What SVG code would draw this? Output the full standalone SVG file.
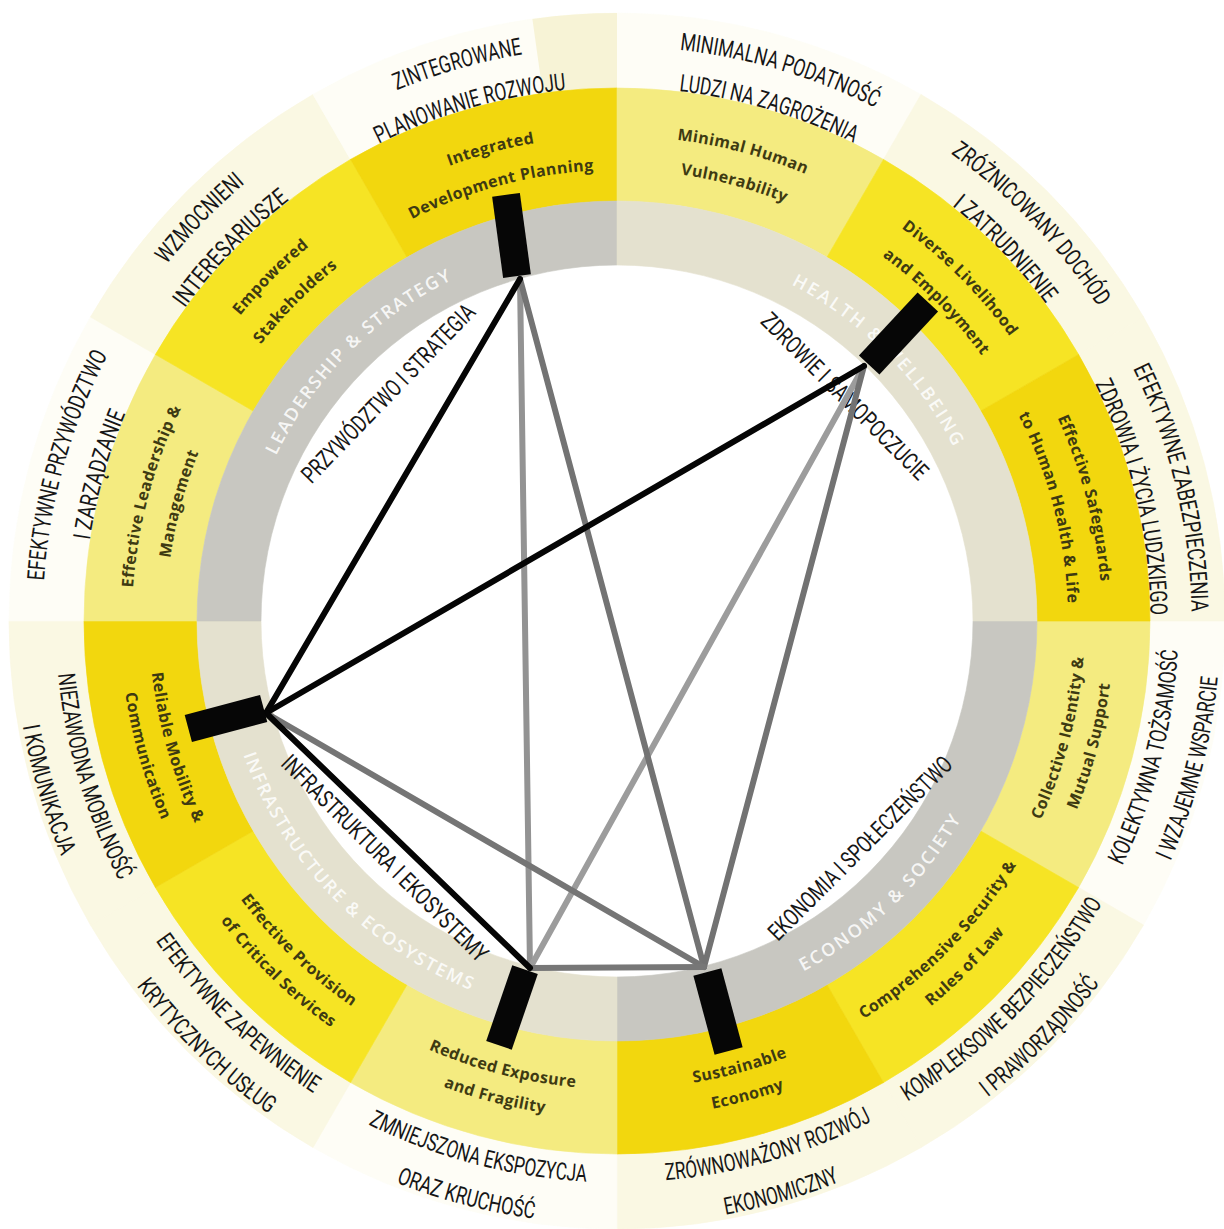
<svg xmlns="http://www.w3.org/2000/svg" width="1224" height="1229" viewBox="0 0 1224 1229">
<defs>
<style>
.pl{font-family:Roboto,"Liberation Sans",sans-serif;font-size:24px;fill:#161616;text-anchor:middle}
.en{font-family:"Open Sans","DejaVu Sans",sans-serif;font-weight:700;font-size:16px;letter-spacing:0.4px;fill:#3e3a12;text-anchor:middle}
.qd{font-family:"Open Sans","DejaVu Sans",sans-serif;font-weight:600;font-size:18px;fill:#ffffff;fill-opacity:0.85;text-anchor:middle}
.light{fill:#f4eb80;stroke:#f4eb80;stroke-width:0.6}
.bright{fill:#f6e424;stroke:#f6e424;stroke-width:0.6}
.gold{fill:#f2d70e;stroke:#f2d70e;stroke-width:0.6}
.cream{fill:#faf8e3;stroke:#faf8e3;stroke-width:0.6}
.pale{fill:#fefdf6;stroke:#fefdf6;stroke-width:0.6}
.grayq{fill:#c8c7c1;stroke:#c8c7c1;stroke-width:0.6}
.beigeq{fill:#e4e1cf;stroke:#e4e1cf;stroke-width:0.6}
.bar{fill:#060606}
.lk{fill:none;stroke-width:6;stroke-linecap:round}
</style>
<!-- ring sectors drawn at the origin, 0..30deg / 0..90deg -->
<path id="sy" d="M420,0 L533,0 A533,533 0 0 1 461.59,266.5 L363.73,210 A420,420 0 0 0 420,0 Z"/>
<path id="so" d="M533,0 L608,0 A608,608 0 0 1 526.54,304 L461.59,266.5 A533,533 0 0 0 533,0 Z"/>
<path id="sg" d="M356,0 L420,0 A420,420 0 0 1 0,420 L0,356 A356,356 0 0 0 356,0 Z"/>
<!-- label arcs: top arcs run clockwise around 270deg, bottom arcs counter-clockwise around 90deg -->
<path id="OT1" d="M-440.1,-369.3 A574.5,574.5 0 0 1 440.1,-369.3"/>
<path id="OT2" d="M-408.7,-342.9 A533.5,533.5 0 0 1 408.7,-342.9"/>
<path id="OB1" d="M-430.1,360.9 A561.5,561.5 0 0 0 430.1,360.9"/>
<path id="OB2" d="M-462.3,387.9 A603.5,603.5 0 0 0 462.3,387.9"/>
<path id="ET1" d="M-371.5,-311.8 A485,485 0 0 1 371.5,-311.8"/>
<path id="ET2" d="M-345.5,-289.9 A451,451 0 0 1 345.5,-289.9"/>
<path id="EB1" d="M-358.5,300.8 A468,468 0 0 0 358.5,300.8"/>
<path id="EB2" d="M-380.7,319.5 A497,497 0 0 0 380.7,319.5"/>
<path id="QT" d="M-290.3,-243.6 A379,379 0 0 1 290.3,-243.6"/>
<path id="QB" d="M-304.1,255.2 A397,397 0 0 0 304.1,255.2"/>
</defs>

<rect width="1224" height="1229" fill="#ffffff"/>

<!-- outer ring: pale sectors -->
<g id="outer-ring" transform="translate(617,621)">
<use href="#so" class="pale" transform="rotate(0)"/>
<use href="#so" class="cream" transform="rotate(30)"/>
<use href="#so" class="cream" transform="rotate(60)"/>
<use href="#so" class="pale" transform="rotate(90)"/>
<use href="#so" class="cream" transform="rotate(120)"/>
<use href="#so" class="cream" transform="rotate(150)"/>
<use href="#so" class="pale" transform="rotate(180)"/>
<use href="#so" class="cream" transform="rotate(210)"/>
<use href="#so" class="pale" transform="rotate(240)"/>
<use href="#so" class="pale" transform="rotate(270)"/>
<use href="#so" class="cream" transform="rotate(300)"/>
<use href="#so" class="cream" transform="rotate(330)"/>
</g>
<path d="M542.8,93.2 L532.4,18.9 A608,608 0 0 1 617,13 L617,88 A533,533 0 0 0 542.8,93.2 Z" fill="#f7f3d6"/>

<!-- yellow ring: twelve capacity segments -->
<g id="seg-collective-identity">
<use href="#sy" class="light" transform="translate(617,621) rotate(0)"/>
<g transform="translate(617,621) rotate(-75.6)">
<text class="pl"><textPath href="#OB1" startOffset="50%" textLength="224" lengthAdjust="spacingAndGlyphs">KOLEKTYWNA TOŻSAMOŚĆ</textPath></text>
<text class="pl"><textPath href="#OB2" startOffset="50%" textLength="191" lengthAdjust="spacingAndGlyphs">I WZAJEMNE WSPARCIE</textPath></text>
</g>
<g transform="translate(617,621) rotate(-75.2)">
<text class="en"><textPath href="#EB1" startOffset="50%">Collective Identity &amp;</textPath></text>
<text class="en"><textPath href="#EB2" startOffset="50%">Mutual Support</textPath></text>
</g>
</g>

<g id="seg-comprehensive-security">
<use href="#sy" class="bright" transform="translate(617,621) rotate(30)"/>
<g transform="translate(617,621) rotate(-45.5)">
<text class="pl"><textPath href="#OB1" startOffset="50%" textLength="281" lengthAdjust="spacingAndGlyphs">KOMPLEKSOWE BEZPIECZEŃSTWO</textPath></text>
<text class="pl"><textPath href="#OB2" startOffset="50%" textLength="160" lengthAdjust="spacingAndGlyphs">I PRAWORZĄDNOŚĆ</textPath></text>
</g>
<g transform="translate(617,621) rotate(-45.2)">
<text class="en"><textPath href="#EB1" startOffset="50%">Comprehensive Security &amp;</textPath></text>
<text class="en"><textPath href="#EB2" startOffset="50%">Rules of Law</textPath></text>
</g>
</g>

<g id="seg-sustainable-economy">
<use href="#sy" class="gold" transform="translate(617,621) rotate(60)"/>
<g transform="translate(617,621) rotate(-16)">
<text class="pl"><textPath href="#OB1" startOffset="50%" textLength="216" lengthAdjust="spacingAndGlyphs">ZRÓWNOWAŻONY ROZWÓJ</textPath></text>
<text class="pl"><textPath href="#OB2" startOffset="50%" textLength="119" lengthAdjust="spacingAndGlyphs">EKONOMICZNY</textPath></text>
</g>
<g transform="translate(617,621) rotate(-15.4)">
<text class="en"><textPath href="#EB1" startOffset="50%">Sustainable</textPath></text>
<text class="en"><textPath href="#EB2" startOffset="50%">Economy</textPath></text>
</g>
</g>

<g id="seg-reduced-exposure">
<use href="#sy" class="light" transform="translate(617,621) rotate(90)"/>
<g transform="translate(617,621) rotate(14.7)">
<text class="pl"><textPath href="#OB1" startOffset="50%" textLength="227" lengthAdjust="spacingAndGlyphs">ZMNIEJSZONA EKSPOZYCJA</textPath></text>
<text class="pl"><textPath href="#OB2" startOffset="50%" textLength="143" lengthAdjust="spacingAndGlyphs">ORAZ KRUCHOŚĆ</textPath></text>
</g>
<g transform="translate(617,621) rotate(14.4)">
<text class="en"><textPath href="#EB1" startOffset="50%">Reduced Exposure</textPath></text>
<text class="en"><textPath href="#EB2" startOffset="50%">and Fragility</textPath></text>
</g>
</g>

<g id="seg-critical-services">
<use href="#sy" class="bright" transform="translate(617,621) rotate(120)"/>
<g transform="translate(617,621) rotate(44)">
<text class="pl"><textPath href="#OB1" startOffset="50%" textLength="221" lengthAdjust="spacingAndGlyphs">EFEKTYWNE ZAPEWNIENIE</textPath></text>
<text class="pl"><textPath href="#OB2" startOffset="50%" textLength="185" lengthAdjust="spacingAndGlyphs">KRYTYCZNYCH USŁUG</textPath></text>
</g>
<g transform="translate(617,621) rotate(44)">
<text class="en"><textPath href="#EB1" startOffset="50%">Effective Provision</textPath></text>
<text class="en"><textPath href="#EB2" startOffset="50%">of Critical Services</textPath></text>
</g>
</g>

<g id="seg-reliable-mobility">
<use href="#sy" class="gold" transform="translate(617,621) rotate(150)"/>
<g transform="translate(617,621) rotate(73.5)">
<text class="pl"><textPath href="#OB1" startOffset="50%" textLength="217" lengthAdjust="spacingAndGlyphs">NIEZAWODNA MOBILNOŚĆ</textPath></text>
<text class="pl"><textPath href="#OB2" startOffset="50%" textLength="136" lengthAdjust="spacingAndGlyphs">I KOMUNIKACJA</textPath></text>
</g>
<g transform="translate(617,621) rotate(74)">
<text class="en"><textPath href="#EB1" startOffset="50%">Reliable Mobility &amp;</textPath></text>
<text class="en"><textPath href="#EB2" startOffset="50%">Communication</textPath></text>
</g>
</g>

<g id="seg-effective-leadership">
<use href="#sy" class="light" transform="translate(617,621) rotate(180)"/>
<g transform="translate(617,621) rotate(-74.2)">
<text class="pl"><textPath href="#OT1" startOffset="50%" textLength="236" lengthAdjust="spacingAndGlyphs">EFEKTYWNE PRZYWÓDZTWO</textPath></text>
<text class="pl"><textPath href="#OT2" startOffset="50%" textLength="132" lengthAdjust="spacingAndGlyphs">I ZARZĄDZANIE</textPath></text>
</g>
<g transform="translate(617,621) rotate(-75)">
<text class="en"><textPath href="#ET1" startOffset="50%">Effective Leadership &amp;</textPath></text>
<text class="en"><textPath href="#ET2" startOffset="50%">Management</textPath></text>
</g>
</g>

<g id="seg-empowered-stakeholders">
<use href="#sy" class="bright" transform="translate(617,621) rotate(210)"/>
<g transform="translate(617,621) rotate(-46)">
<text class="pl"><textPath href="#OT1" startOffset="50%" textLength="113" lengthAdjust="spacingAndGlyphs">WZMOCNIENI</textPath></text>
<text class="pl"><textPath href="#OT2" startOffset="50%" textLength="151" lengthAdjust="spacingAndGlyphs">INTERESARIUSZE</textPath></text>
</g>
<g transform="translate(617,621) rotate(-45.2)">
<text class="en"><textPath href="#ET1" startOffset="50%">Empowered</textPath></text>
<text class="en"><textPath href="#ET2" startOffset="50%">Stakeholders</textPath></text>
</g>
</g>

<g id="seg-integrated-planning">
<use href="#sy" class="gold" transform="translate(617,621) rotate(240)"/>
<g transform="translate(617,621) rotate(-16)">
<text class="pl"><textPath href="#OT1" startOffset="50%" textLength="131" lengthAdjust="spacingAndGlyphs">ZINTEGROWANE</textPath></text>
<text class="pl"><textPath href="#OT2" startOffset="50%" textLength="196" lengthAdjust="spacingAndGlyphs">PLANOWANIE ROZWOJU</textPath></text>
</g>
<g transform="translate(617,621) rotate(-15)">
<text class="en"><textPath href="#ET1" startOffset="50%">Integrated</textPath></text>
<text class="en"><textPath href="#ET2" startOffset="50%">Development Planning</textPath></text>
</g>
</g>

<g id="seg-minimal-vulnerability">
<use href="#sy" class="light" transform="translate(617,621) rotate(270)"/>
<g transform="translate(617,621) rotate(16.5)">
<text class="pl"><textPath href="#OT1" startOffset="50%" textLength="205" lengthAdjust="spacingAndGlyphs">MINIMALNA PODATNOŚĆ</textPath></text>
<text class="pl"><textPath href="#OT2" startOffset="50%" textLength="183" lengthAdjust="spacingAndGlyphs">LUDZI NA ZAGROŻENIA</textPath></text>
</g>
<g transform="translate(617,621) rotate(15)">
<text class="en"><textPath href="#ET1" startOffset="50%">Minimal Human</textPath></text>
<text class="en"><textPath href="#ET2" startOffset="50%">Vulnerability</textPath></text>
</g>
</g>

<g id="seg-diverse-livelihood">
<use href="#sy" class="bright" transform="translate(617,621) rotate(300)"/>
<g transform="translate(617,621) rotate(46.2)">
<text class="pl"><textPath href="#OT1" startOffset="50%" textLength="214" lengthAdjust="spacingAndGlyphs">ZRÓŻNICOWANY DOCHÓD</textPath></text>
<text class="pl"><textPath href="#OT2" startOffset="50%" textLength="136" lengthAdjust="spacingAndGlyphs">I ZATRUDNIENIE</textPath></text>
</g>
<g transform="translate(617,621) rotate(45)">
<text class="en"><textPath href="#ET1" startOffset="50%">Diverse Livelihood</textPath></text>
<text class="en"><textPath href="#ET2" startOffset="50%">and Employment</textPath></text>
</g>
</g>

<g id="seg-health-safeguards">
<use href="#sy" class="gold" transform="translate(617,621) rotate(330)"/>
<g transform="translate(617,621) rotate(76.5)">
<text class="pl"><textPath href="#OT1" startOffset="50%" textLength="252" lengthAdjust="spacingAndGlyphs">EFEKTYWNE ZABEZPIECZENIA</textPath></text>
<text class="pl"><textPath href="#OT2" startOffset="50%" textLength="240" lengthAdjust="spacingAndGlyphs">ZDROWIA I ŻYCIA LUDZKIEGO</textPath></text>
</g>
<g transform="translate(617,621) rotate(75.3)">
<text class="en"><textPath href="#ET1" startOffset="50%">Effective Safeguards</textPath></text>
<text class="en"><textPath href="#ET2" startOffset="50%">to Human Health &amp; Life</textPath></text>
</g>
</g>

<!-- grey ring: four dimensions -->
<g id="dim-economy-society">
<use href="#sg" class="grayq" transform="translate(617,621) rotate(0)"/>
<g transform="translate(617,621) rotate(-44)">
<text class="qd"><textPath href="#QB" startOffset="50%" textLength="222" lengthAdjust="spacing">ECONOMY &amp; SOCIETY</textPath></text>
</g>
<text class="pl" transform="translate(860,848) rotate(-45)" y="8.5" textLength="249" lengthAdjust="spacingAndGlyphs">EKONOMIA I SPOŁECZEŃSTWO</text>
</g>

<g id="dim-infrastructure-ecosystems">
<use href="#sg" class="beigeq" transform="translate(617,621) rotate(90)"/>
<g transform="translate(617,621) rotate(46)">
<text class="qd"><textPath href="#QB" startOffset="50%" textLength="337" lengthAdjust="spacing">INFRASTRUCTURE &amp; ECOSYSTEMS</textPath></text>
</g>
<text class="pl" transform="translate(385,858) rotate(45)" y="8.5" textLength="281" lengthAdjust="spacingAndGlyphs">INFRASTRUKTURA I EKOSYSTEMY</text>
</g>

<g id="dim-leadership-strategy">
<use href="#sg" class="grayq" transform="translate(617,621) rotate(180)"/>
<g transform="translate(617,621) rotate(-45)">
<text class="qd"><textPath href="#QT" startOffset="50%" textLength="253" lengthAdjust="spacing">LEADERSHIP &amp; STRATEGY</textPath></text>
</g>
<text class="pl" transform="translate(388,393) rotate(-46)" y="8.5" textLength="238" lengthAdjust="spacingAndGlyphs">PRZYWÓDZTWO I STRATEGIA</text>
</g>

<g id="dim-health-wellbeing">
<use href="#sg" class="beigeq" transform="translate(617,621) rotate(270)"/>
<g transform="translate(617,621) rotate(45)">
<text class="qd"><textPath href="#QT" startOffset="50%" textLength="233" lengthAdjust="spacing">HEALTH &amp; WELLBEING</textPath></text>
</g>
<text class="pl" transform="translate(845,396) rotate(45)" y="8.5" textLength="225" lengthAdjust="spacingAndGlyphs">ZDROWIE I SAMOPOCZUCIE</text>
</g>

<!-- links between the marked capacities -->
<g id="connectors" class="lk">
<line x1="520" y1="279" x2="530" y2="968" stroke="#939393"/>
<line x1="864" y1="366" x2="530" y2="968" stroke="#9c9c9c"/>
<line x1="520" y1="279" x2="704" y2="967" stroke="#737373"/>
<line x1="864" y1="366" x2="704" y2="967" stroke="#727272"/>
<line x1="266" y1="713" x2="704" y2="967" stroke="#757575"/>
<line x1="530" y1="968" x2="704" y2="967" stroke="#777777"/>
<line x1="520" y1="279" x2="266" y2="713" stroke="#050505"/>
<line x1="864" y1="366" x2="266" y2="713" stroke="#050505"/>
<line x1="266" y1="713" x2="530" y2="968" stroke="#050505"/>
</g>

<!-- markers on the wheel -->
<g id="node-integrated-planning"><rect class="bar" x="-14" y="-41" width="28" height="82" transform="translate(511.5,235.5) rotate(-7.7)"/></g>
<g id="node-diverse-livelihood"><rect class="bar" x="-14" y="-43" width="28" height="86" transform="translate(898.5,333.5) rotate(43)"/></g>
<g id="node-reliable-mobility"><rect class="bar" x="-14" y="-39" width="28" height="78" transform="translate(226,718.5) rotate(75)"/></g>
<g id="node-reduced-exposure"><rect class="bar" x="-13.5" y="-40" width="27" height="80" transform="translate(512,1007.5) rotate(19)"/></g>
<g id="node-sustainable-economy"><rect class="bar" x="-14.5" y="-41" width="29" height="82" transform="translate(718,1011.5) rotate(-15)"/></g>
</svg>
